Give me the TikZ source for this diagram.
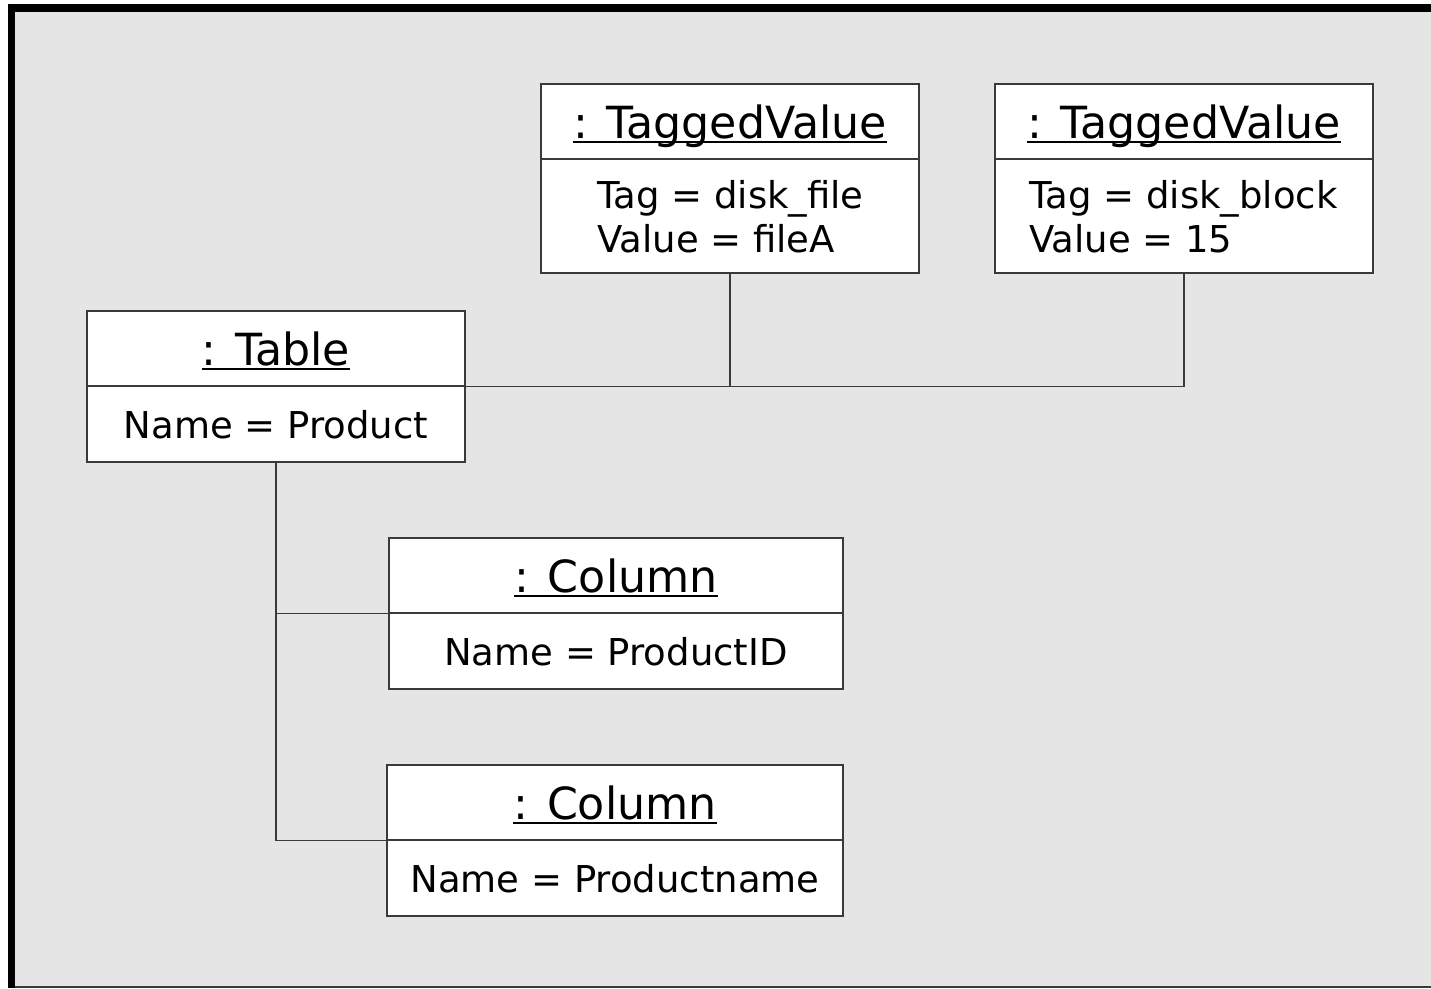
\documentclass[tikz,border=0pt]{standalone}
\usepackage{fontspec}
\setmainfont{DejaVu Sans}
\newcommand\ulin[1]{\setbox0\hbox{#1}\rlap{\rule[-5pt]{\wd0}{2pt}}\box0}
\definecolor{bgc}{HTML}{E5E5E5}
\definecolor{linec}{HTML}{3A3A3A}
\tikzset{
  objbox/.style={draw=linec, fill=white, line width=1.5pt, rectangle, inner sep=0pt},
  divline/.style={draw=linec, line width=1.5pt},
  conn/.style={draw=linec, line width=1.5pt},
  ttl/.style={anchor=base, inner sep=0pt, font=\fontsize{44.3}{50}\selectfont},
  bdy/.style={anchor=base, inner sep=0pt, font=\fontsize{37}{44}\selectfont},
  bdyl/.style={anchor=base west, inner sep=0pt, font=\fontsize{37}{44}\selectfont}
}
\begin{document}
\begin{tikzpicture}[x=1pt,y=-1pt]
\fill[white] (0,0) rectangle (1431,988);
\useasboundingbox (0,0) rectangle (1431,988);
\fill[bgc] (15,12) rectangle (1431,987);
\fill[black] (8,4) rectangle (1431,12);
\fill[black] (8,4) rectangle (15,988);
\draw[draw=linec, line width=1.5pt] (15,987.2) -- (1431,987.2);

% boxes
\node[objbox, minimum width=378pt, minimum height=189pt] (tv1) at (730,178.5) {};
\node[objbox, minimum width=378pt, minimum height=189pt] (tv2) at (1184,178.5) {};
\node[objbox, minimum width=378pt, minimum height=151pt] (tab) at (276,386.5) {};
\node[objbox, minimum width=454pt, minimum height=151pt] (col1) at (616,613.5) {};
\node[objbox, minimum width=456pt, minimum height=151pt] (col2) at (615,840.5) {};

% dividers
\draw[divline] (tv1.west |- 0,159) -- (tv1.east |- 0,159);
\draw[divline] (tv2.west |- 0,159) -- (tv2.east |- 0,159);
\draw[divline] (tab.west |- 0,386) -- (tab.east |- 0,386);
\draw[divline] (col1.west |- 0,613) -- (col1.east |- 0,613);
\draw[divline] (col2.west |- 0,840) -- (col2.east |- 0,840);

% texts
\node[ttl] (tv1t) at (730,138) {\ulin{: TaggedValue}};
\node[bdyl] (tv1a) at (597,208) {Tag = disk\_file};
\node[bdyl] (tv1b) at (597,252) {Value = fileA};

\node[ttl] (tv2t) at (1184,138) {\ulin{: TaggedValue}};
\node[bdyl] (tv2a) at (1029,208) {Tag = disk\_block};
\node[bdyl] (tv2b) at (1029,252) {Value = 15};

\node[ttl] (tabt) at (276,365) {\ulin{: Table}};
\node[bdy] (tabb) at (276,438) {Name = Product};

\node[ttl] (col1t) at (616,592) {\ulin{: Column}};
\node[bdy] (col1b) at (616,665) {Name = ProductID};

\node[ttl] (col2t) at (615,819) {\ulin{: Column}};
\node[bdy] (col2b) at (615,892) {Name = Productname};

% connectors
\draw[conn] (tab.east) -- (tab.east -| tv2.south) -- (tv2.south);
\draw[conn] (tv1.south) -- (tv1.south |- tab.east);
\draw[conn] (tab.south) |- (col2.west);
\draw[conn] (col1.west) -- (col1.west -| tab.south);
\end{tikzpicture}
\end{document}
